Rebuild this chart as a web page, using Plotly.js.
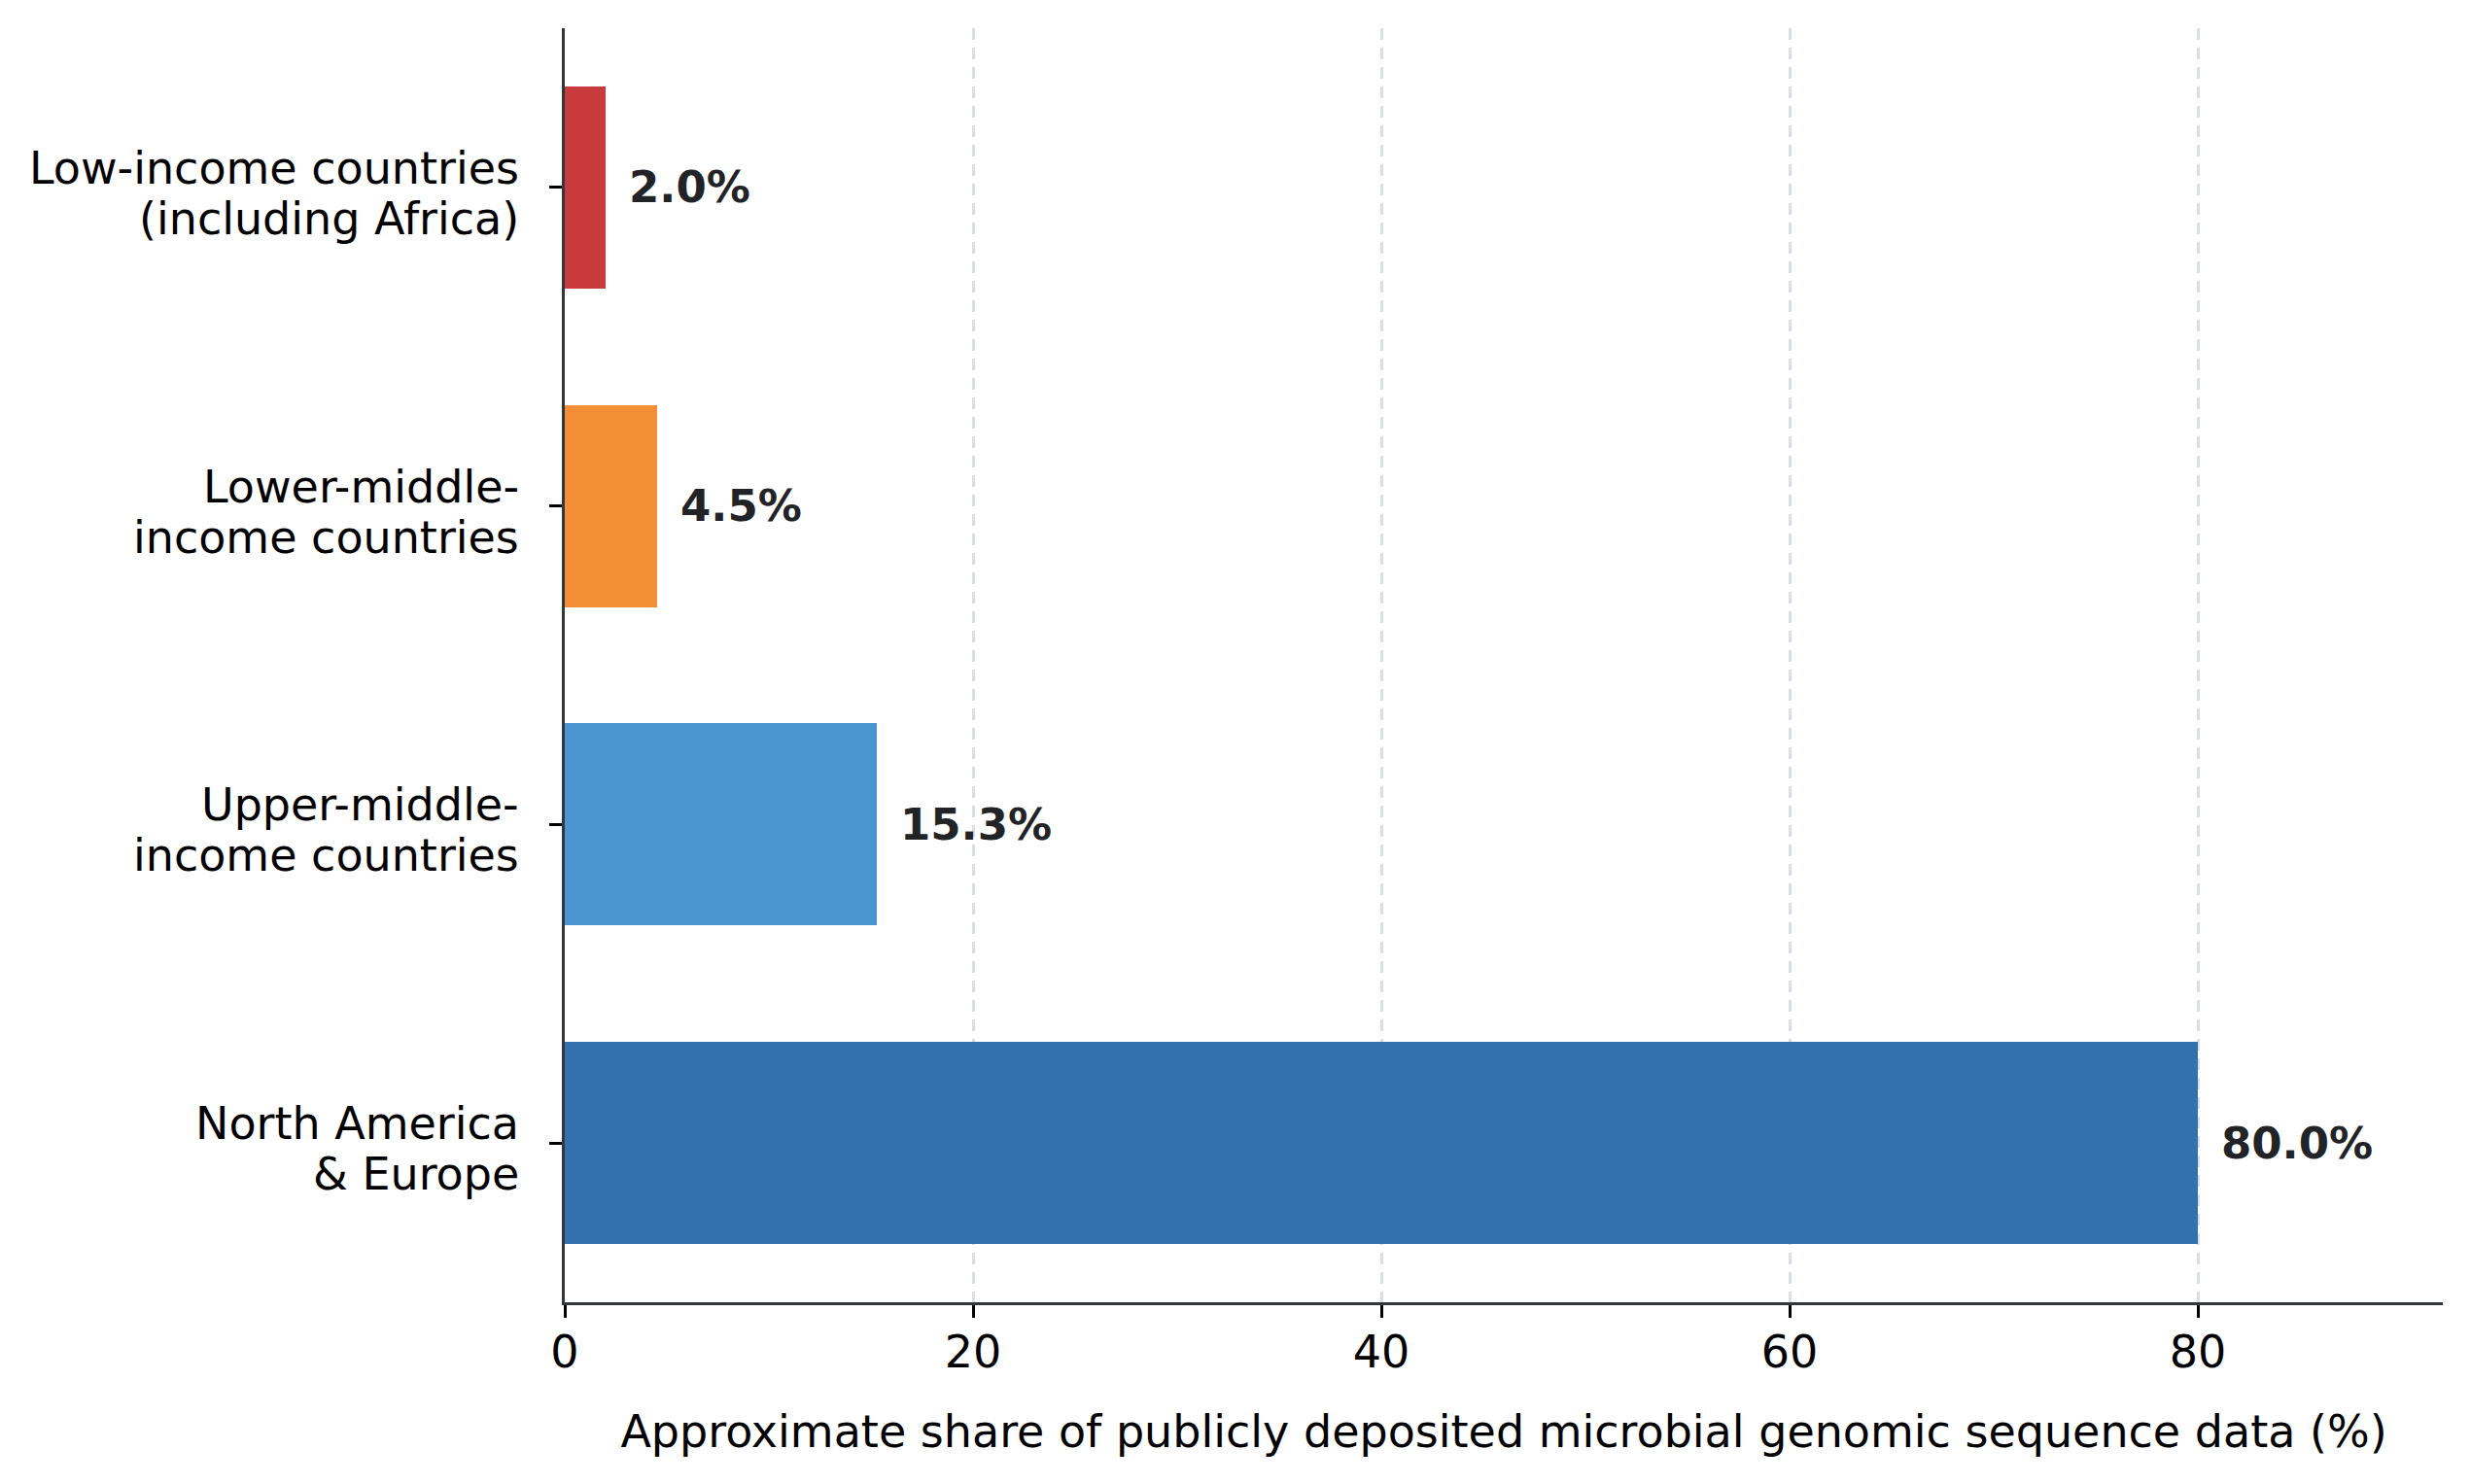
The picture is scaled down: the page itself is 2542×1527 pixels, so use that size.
<!DOCTYPE html>
<html>
<head>
<meta charset="utf-8">
<script src="https://cdn.plot.ly/plotly-3.0.1.min.js"></script>
<style>
  html, body { margin: 0; padding: 0; background: #fff; }
  #chart { width: 2542px; height: 1527px; }
</style>
</head>
<body>
<div id="chart"></div>
<script>
// bottom to top, as plotly stacks categories upward
const regions = [
    'North America & Europe',
    'Upper-middle-income countries',
    'Lower-middle-income countries',
    'Low-income countries (including Africa)',
];
const regionLine1 = ['North America', 'Upper-middle-', 'Lower-middle-', 'Low-income countries'];
const regionLine2 = ['& Europe', 'income countries', 'income countries', '(including Africa)'];
const shares = [80.0, 15.3, 4.5, 2.0];
const shareLabels = ['80.0%', '15.3%', '4.5%', '2.0%'];
const barColors = ['#3370ae', '#4b96d0', '#f28e35', '#c83a3c'];
const xTicks = [0, 20, 40, 60, 80];

const FONT = 'DejaVu Sans, Verdana, sans-serif';
const INK = '#222326';
const AXIS = '#33373d';

const traces = [{
    type: 'bar',
    orientation: 'h',
    x: shares,
    y: regions,
    width: 0.635,
    marker: { color: barColors, line: { width: 0 } },
    hoverinfo: 'skip',
    showlegend: false,
}];

const annotations = [];

shares.forEach((v, i) => {
    annotations.push({
        x: v,
        y: regions[i],
        xref: 'x',
        yref: 'y',
        text: '<b>' + shareLabels[i] + '</b>',
        showarrow: false,
        xanchor: 'left',
        yanchor: 'middle',
        xshift: 22,
        font: { family: FONT, size: 45, color: INK },
    });
});

// category labels drawn line by line to get matplotlib-like line spacing
const labelLine = (text, cat, shift) => ({
    x: 0,
    y: cat,
    xref: 'paper',
    yref: 'y',
    text: text,
    showarrow: false,
    xanchor: 'right',
    yanchor: 'middle',
    xshift: -45,
    yshift: shift,
    font: { family: FONT, size: 46, color: '#000' },
});

regions.forEach((cat, i) => {
    annotations.push(labelLine(regionLine1[i], cat, 20));
    annotations.push(labelLine(regionLine2[i], cat, -32));
});

const layout = {
    width: 2542,
    height: 1527,
    margin: { l: 581, r: 29, t: 29, b: 187 },
    paper_bgcolor: '#ffffff',
    plot_bgcolor: '#ffffff',
    font: { family: FONT, size: 46, color: '#000' },
    showlegend: false,
    bargap: 0,
    xaxis: {
        range: [0, 92],
        tickvals: xTicks,
        ticktext: xTicks.map(String),
        ticks: 'outside',
        ticklen: 13,
        tickwidth: 3,
        tickcolor: '#000',
        ticklabelstandoff: -4,
        tickfont: { family: FONT, size: 46, color: '#000' },
        showline: true,
        linecolor: AXIS,
        linewidth: 3,
        zeroline: false,
        showgrid: true,
        gridcolor: '#dadfe5',
        gridwidth: 3,
        griddash: '12px,8px',
        title: {
            text: 'Approximate share of publicly deposited microbial genomic sequence data (%)',
            font: { family: FONT, size: 46, color: '#000' },
            standoff: 40,
        },
    },
    yaxis: {
        type: 'category',
        categoryorder: 'array',
        categoryarray: regions,
        range: [-0.5, 3.5],
        ticks: 'outside',
        ticklen: 13,
        tickwidth: 3,
        tickcolor: '#000',
        showticklabels: false,
        showline: true,
        linecolor: AXIS,
        linewidth: 3,
        zeroline: false,
        showgrid: false,
    },
    annotations: annotations,
};

Plotly.newPlot('chart', traces, layout, { displayModeBar: false, staticPlot: true });
</script>
</body>
</html>
